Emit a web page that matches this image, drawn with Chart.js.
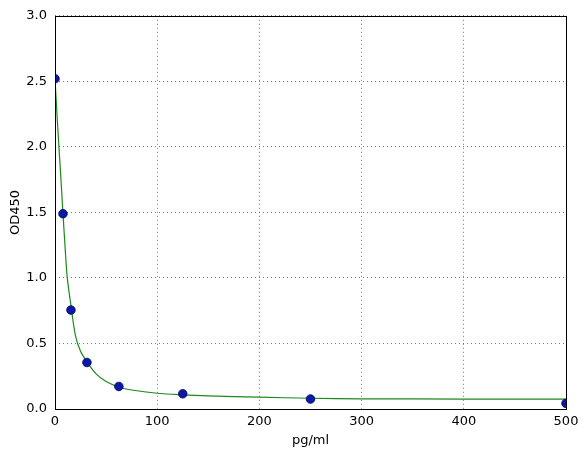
<!DOCTYPE html>
<html>
<head>
<meta charset="utf-8">
<script src="https://cdn.jsdelivr.net/npm/chart.js@4/dist/chart.umd.min.js"></script>
<style>
  html, body { margin: 0; padding: 0; background: #fff; }
  #wrap { width: 587px; height: 457px; }
</style>
</head>
<body>
<div id="wrap"><canvas id="c"></canvas></div>
<script>
// measured standards (pg/ml vs OD450)
const conc = [0, 7.8, 15.6, 31.25, 62.5, 125, 250, 500]
const od = [2.52, 1.49, 0.755, 0.355, 0.172, 0.116, 0.076, 0.043]

// fitted curve
const fitX = [0, 2, 4, 6, 7.8, 10, 12, 15.6, 20, 25, 31.25, 40, 50, 62.5, 75, 100, 125, 150, 200, 250, 300, 400, 500]
const fitY = [2.52, 2.24, 1.98, 1.73, 1.49, 1.22, 1.0, 0.79, 0.56, 0.44, 0.36, 0.27, 0.21, 0.168, 0.145, 0.12, 0.108, 0.1, 0.09, 0.082, 0.078, 0.076, 0.075]

const xTicks = [0, 100, 200, 300, 400, 500]
const yTicks = [0, 0.5, 1.0, 1.5, 2.0, 2.5, 3.0]

const FONT = 'DejaVu Sans'

// black frame around the plot, like the matplotlib axes box
const frame = {
  id: 'frame',
  afterDatasetsDraw(chart) {
    let a = chart.chartArea
    let ctx = chart.ctx
    ctx.save()
    ctx.strokeStyle = '#000'
    ctx.lineWidth = 1
    ctx.strokeRect(Math.round(a.left) + 0.5, Math.round(a.top) + 0.5,
                   Math.round(a.right - a.left), Math.round(a.bottom - a.top))
    ctx.restore()
  }
}

let ctx = document.getElementById('c').getContext('2d')
new Chart(ctx, {
  type: 'scatter',
  data: {
    datasets: [{
      type: 'line',
      label: 'fit',
      data: fitX.map((x, i) => ({x: x, y: fitY[i]})),
      borderColor: '#1a8a1a',
      borderWidth: 1.2,
      pointRadius: 0,
      tension: 0.3,
      fill: false,
      clip: 0,
      order: 2
    }, {
      label: 'std',
      data: conc.map((x, i) => ({x: x, y: od[i]})),
      backgroundColor: '#0a1aa8',
      borderColor: '#00005a',
      borderWidth: 0.8,
      pointRadius: 4.3,
      clip: 0,
      order: 1
    }]
  },
  options: {
    responsive: true,
    maintainAspectRatio: false,
    animation: false,
    layout: { padding: { top: 13, right: 21, left: 0, bottom: 0 } },
    plugins: { legend: { display: false }, tooltip: { enabled: false } },
    scales: {
      x: {
        type: 'linear',
        min: 0, max: 500,
        afterBuildTicks: s => { s.ticks = xTicks.map(v => ({value: v})) },
        afterFit: s => { s.height = 48 },
        ticks: { color: '#000', padding: 5, font: { family: FONT, size: 13 }, maxRotation: 0 },
        grid: { color: '#555', lineWidth: 0.8, drawTicks: false },
        border: { display: false, dash: [1, 3] },
        title: { display: true, text: 'pg/ml', color: '#000', font: { family: FONT, size: 13 }, padding: { top: 0, bottom: 9 } }
      },
      y: {
        type: 'linear',
        min: 0, max: 3,
        afterBuildTicks: s => { s.ticks = yTicks.map(v => ({value: v})) },
        afterFit: s => { s.width = 55 },
        ticks: { color: '#000', padding: 8, font: { family: FONT, size: 13 }, callback: v => v.toFixed(1) },
        grid: { color: '#555', lineWidth: 0.8, drawTicks: false },
        border: { display: false, dash: [1, 3] },
        title: { display: true, text: 'OD450', color: '#000', font: { family: FONT, size: 13 }, padding: { top: 8, bottom: 0 } }
      }
    }
  },
  plugins: [frame]
})
</script>
</body>
</html>
